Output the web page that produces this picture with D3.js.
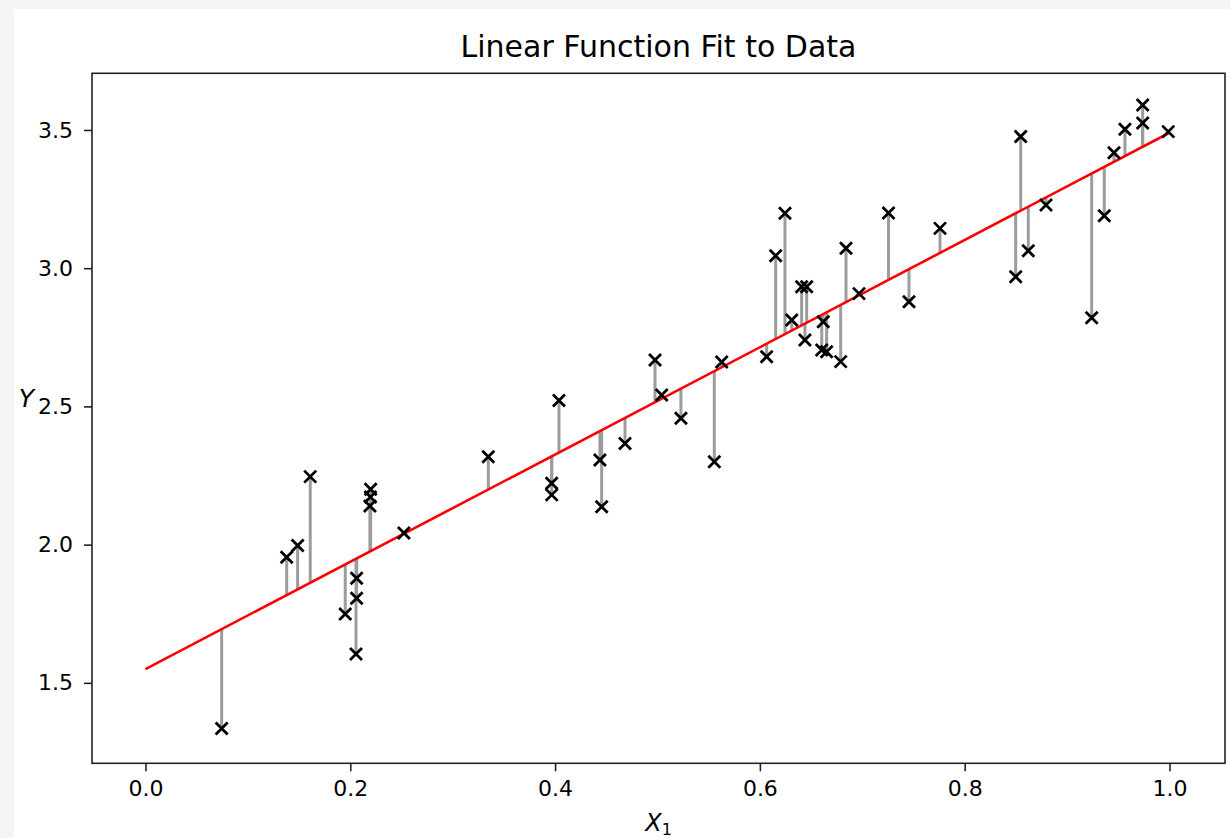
<!DOCTYPE html>
<html>
<head>
<meta charset="utf-8">
<script src="https://cdn.jsdelivr.net/npm/d3@7"></script>
<style>
  html, body { margin: 0; padding: 0; background: #f4f4f4; }
  svg { display: block; }
  text { font-family: "DejaVu Sans", sans-serif; fill: #000; }
</style>
</head>
<body>
<svg id="chart" width="1230" height="838"></svg>
<script>
// Observations: feature X1 and target Y
const xValues = [
  0.0744, 0.1379, 0.1486, 0.1609, 0.1951, 0.2062, 0.2062, 0.2056, 0.2192, 0.2197,
  0.2199, 0.2524, 0.3348, 0.3967, 0.3967, 0.4038, 0.4438, 0.4455, 0.4683, 0.4976,
  0.5041, 0.5229, 0.5555, 0.5627, 0.6066, 0.6154, 0.6245, 0.6311, 0.6408, 0.6457,
  0.6440, 0.6619, 0.6604, 0.6652, 0.6789, 0.6841, 0.6968, 0.7256, 0.7456, 0.7759,
  0.8498, 0.8547, 0.8621, 0.8794, 0.9240, 0.9363, 0.9458, 0.9565, 0.9738, 0.9738,
  0.9988
];
const yValues = [
  1.335, 1.954, 1.997, 2.246, 1.749, 1.878, 1.806, 1.604, 2.140, 2.172,
  2.200, 2.042, 2.318, 2.222, 2.180, 2.521, 2.306, 2.137, 2.366, 2.668,
  2.541, 2.457, 2.300, 2.661, 2.680, 3.045, 3.199, 2.813, 2.933, 2.933,
  2.740, 2.806, 2.704, 2.698, 2.662, 3.072, 2.908, 3.200, 2.879, 3.144,
  2.969, 3.476, 3.063, 3.229, 2.821, 3.190, 3.418, 3.503, 3.525, 3.590,
  3.494
];

// Fitted linear model: y = theta0 + theta1 * x
const theta0 = 1.55;
const theta1 = 1.94;
const lineX = [0, 1];

const xTicks = [0.0, 0.2, 0.4, 0.6, 0.8, 1.0];
const yTicks = [1.5, 2.0, 2.5, 3.0, 3.5];
const xLim = [-0.0522, 1.0542];
const yLim = [1.209, 3.705];

const titleText = "Linear Function Fit to Data";

const predict = x => theta0 + theta1 * x;
const points = xValues.map((x, i) => ({ x, y: yValues[i] }));

const svg = d3.select("#chart");
const W = 1230, H = 838;
const plot = { left: 92, right: 1225, top: 73.3, bottom: 763.3 };

// figure background
svg.append("rect").attr("x", 0).attr("y", 0).attr("width", W).attr("height", H).attr("fill", "#f4f4f4");
svg.append("rect").attr("x", 14).attr("y", 9).attr("width", W - 14).attr("height", H - 9).attr("fill", "#ffffff");

const x = d3.scaleLinear().domain(xLim).range([plot.left, plot.right]);
const y = d3.scaleLinear().domain(yLim).range([plot.bottom, plot.top]);

const g = svg.append("g");

// residuals from each observation to the fitted line
g.append("g").selectAll("line").data(points).join("line")
  .attr("x1", d => x(d.x)).attr("x2", d => x(d.x))
  .attr("y1", d => y(d.y)).attr("y2", d => y(predict(d.x)))
  .attr("stroke", "#9c9c9c").attr("stroke-width", 3);

// fitted line
g.append("path")
  .datum(lineX)
  .attr("d", d3.line().x(d => x(d)).y(d => y(predict(d))))
  .attr("fill", "none").attr("stroke", "#ff0000").attr("stroke-width", 2.6);

// observations as 'x' markers
const s = 6;
g.append("g").selectAll("path").data(points).join("path")
  .attr("transform", d => `translate(${x(d.x)},${y(d.y)})`)
  .attr("d", `M${-s},${-s}L${s},${s}M${-s},${s}L${s},${-s}`)
  .attr("stroke", "#000").attr("stroke-width", 2.8).attr("fill", "none");

// axes
const xAxis = svg.append("g").attr("transform", `translate(0,${plot.bottom})`)
  .call(d3.axisBottom(x).tickValues(xTicks).tickFormat(d3.format(".1f")).tickSize(8).tickPadding(9));
const yAxis = svg.append("g").attr("transform", `translate(${plot.left},0)`)
  .call(d3.axisLeft(y).tickValues(yTicks).tickFormat(d3.format(".1f")).tickSize(8).tickPadding(11));
[xAxis, yAxis].forEach(a => {
  a.select(".domain").remove();
  a.selectAll(".tick line").attr("stroke", "#222").attr("stroke-width", 1.6);
  a.selectAll(".tick text").attr("font-size", 22).attr("font-family", "DejaVu Sans").attr("fill", "#222");
});

// frame
svg.append("rect")
  .attr("x", plot.left).attr("y", plot.top)
  .attr("width", plot.right - plot.left).attr("height", plot.bottom - plot.top)
  .attr("fill", "none").attr("stroke", "#222").attr("stroke-width", 1.6);

// title
svg.append("text")
  .attr("x", (plot.left + plot.right) / 2).attr("y", 57)
  .attr("text-anchor", "middle").attr("font-size", 30)
  .attr("fill", "#111")
  .text(titleText);

// axis labels
const xl = svg.append("text")
  .attr("x", (plot.left + plot.right) / 2).attr("y", 831)
  .attr("text-anchor", "middle").attr("font-size", 24);
xl.append("tspan").attr("font-style", "italic").text("X");
xl.append("tspan").attr("font-size", 16).attr("dy", 4).text("1");

svg.append("text")
  .attr("x", 34).attr("y", 407)
  .attr("text-anchor", "end").attr("font-size", 25).attr("font-style", "italic")
  .text("Y");
</script>
</body>
</html>
